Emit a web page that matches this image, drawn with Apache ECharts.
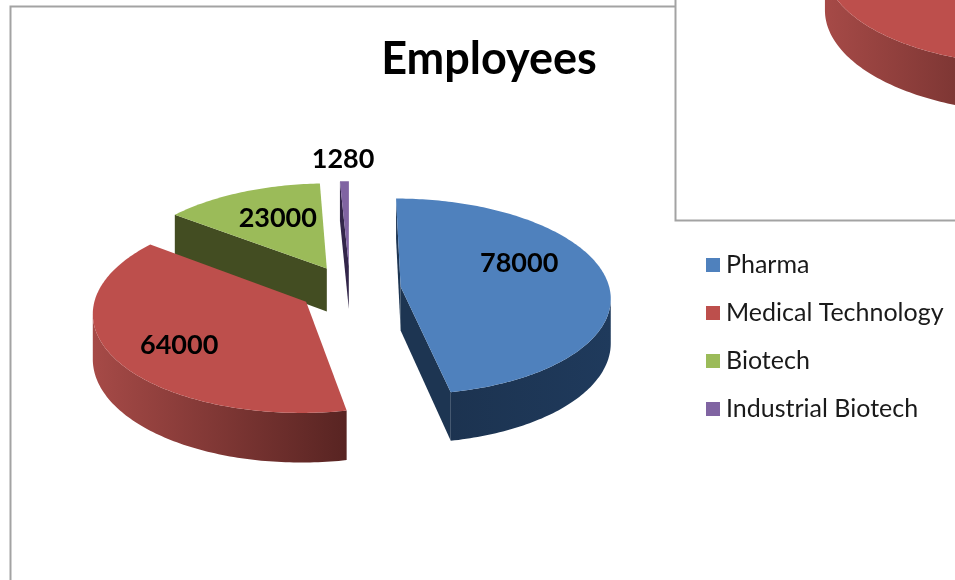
<!DOCTYPE html>
<html>
<head>
<meta charset="utf-8">
<style>html,body{margin:0;padding:0;background:#fff}#c{width:955px;height:580px}</style>
<script src="https://cdn.jsdelivr.net/npm/echarts@6/dist/echarts.min.js"></script>
</head>
<body>
<div id="c"></div>
<script>
// ---- data ----
const titleText = 'Employees';
const categories = ['Pharma', 'Medical Technology', 'Biotech', 'Industrial Biotech'];
const employees = [78000, 64000, 23000, 1280];
// The second chart peeking in at top right: only one red slice shows.
const insetCategory = 'Medical Technology';

// ---- styling ----
const FONT = 'Lato, Carlito, "Open Sans", sans-serif';
const topColors = ['#4f81bd', '#bd4f4c', '#9bbb59', '#8064a2'];
const wallFrom = ['#1c3350', '#a64a47', '#434d22', '#3a2c50'];
const wallTo = ['#1f3a5c', '#582422', '#434d22', '#3a2c50'];
const sideColors = ['#1d3552', '#6b2c2a', '#434d22', '#33264a'];
const labelNudge = [[-5, -18], [-14, 11], [4, -3], [-3, -54]];
const VIEW = { x0: 350, y0: 289, R: 209, tilt: 0.466, persp: 0.1, height: 44, explode: 51, labelR: 0.6 };
const INSET = { x0: 1038, y0: -43, R: 212, tilt: 0.46, persp: 0.1, height: 43, explode: 0 };

const total = employees.reduce((a, b) => a + b, 0);
const rad = d => d * Math.PI / 180;
function spans() {
  let acc = 0;
  return employees.map(v => {
    const start = acc / total * 360;
    acc += v;
    return [start, acc / total * 360];
  });
}
const sliceSpans = spans();

function project(g, U, V, lift) {
  const s = 1 / (1 - g.persp * V / g.R);
  return [g.x0 + U * s, g.y0 + g.tilt * V * s + lift * s];
}

function sliceChildren(g, i, withLabel, value) {
  const [a0, a1] = sliceSpans[i];
  const mid = rad((a0 + a1) / 2);
  const ox = Math.sin(mid) * g.explode, oy = -Math.cos(mid) * g.explode;
  const rim = (deg, lift, f) => {
    const t = rad(deg), r = g.R * (f === undefined ? 1 : f);
    return project(g, ox + Math.sin(t) * r, oy - Math.cos(t) * r, lift);
  };
  const apex = lift => project(g, ox, oy, lift);
  const steps = Math.max(2, Math.ceil(a1 - a0));
  const angles = [];
  for (let k = 0; k <= steps; k++) angles.push(a0 + (a1 - a0) * k / steps);

  const children = [];
  const viewV = g.R / g.persp;
  const radialWall = (deg, sign) => {
    const t = rad(deg);
    const n = [sign * Math.cos(t), sign * Math.sin(t)];
    if ((-ox) * n[0] + (viewV - oy) * n[1] <= 0) return;
    children.push({
      type: 'polygon',
      shape: { points: [apex(0), rim(deg, 0), rim(deg, g.height), apex(g.height)] },
      style: { fill: sideColors[i] }
    });
  };
  radialWall(a0, -1);
  radialWall(a1, 1);

  // curved outer wall: only where the rim runs right-to-left, i.e. faces the viewer
  const up = [], down = [];
  for (let k = 0; k < angles.length - 1; k++) {
    const p = rim(angles[k], 0), q = rim(angles[k + 1], 0);
    if (q[0] < p[0]) {
      if (!up.length) { up.push(p); down.push(rim(angles[k], g.height)); }
      up.push(q);
      down.push(rim(angles[k + 1], g.height));
    }
  }
  if (up.length) {
    children.push({
      type: 'polygon',
      shape: { points: up.concat(down.reverse()) },
      style: {
        fill: {
          type: 'linear', x: 0, y: 0, x2: 1, y2: 0,
          colorStops: [{ offset: 0, color: wallFrom[i] }, { offset: 1, color: wallTo[i] }]
        }
      }
    });
  }

  // top face
  const top = [apex(0)].concat(angles.map(d => rim(d, 0)));
  children.push({ type: 'polygon', shape: { points: top }, style: { fill: topColors[i] } });

  if (withLabel) {
    const c = rim((a0 + a1) / 2, 0, g.labelR);
    children.push({
      type: 'text',
      style: {
        text: String(value),
        x: c[0] + labelNudge[i][0],
        y: c[1] + labelNudge[i][1],
        align: 'center',
        verticalAlign: 'middle',
        fill: '#000',
        font: 'bold 27px ' + FONT
      }
    });
  }
  return { type: 'group', children };
}

// paint far slices first
const mids = sliceSpans.map(s => -Math.cos(rad((s[0] + s[1]) / 2)));
const order = mids.map((m, i) => i).sort((a, b) => mids[a] - mids[b]);

const mainSeries = categories.map((name, i) => ({
  type: 'custom',
  name,
  coordinateSystem: 'none',
  silent: true,
  animation: false,
  z: 3 + order.indexOf(i),
  itemStyle: { color: topColors[i] },
  data: [employees[i]],
  renderItem: (params, api) => sliceChildren(VIEW, i, true, api.value(0))
}));

const insetIndex = categories.indexOf(insetCategory);
const insetSeries = {
  type: 'custom',
  name: 'inset',
  coordinateSystem: 'none',
  silent: true,
  animation: false,
  z: 3,
  data: [employees[insetIndex]],
  renderItem: () => sliceChildren(INSET, insetIndex, false)
};

const frame = '#a3a3a3';
const chart = echarts.init(document.getElementById('c'), null, { renderer: 'canvas' });
chart.setOption({
  animation: false,
  backgroundColor: '#fff',
  title: {
    text: titleText,
    left: 484,
    top: 32,
    textAlign: 'center',
    textStyle: { fontFamily: FONT, fontWeight: 'bold', fontSize: 45, color: '#000' }
  },
  legend: {
    data: categories,
    orient: 'vertical',
    left: 701,
    top: 246,
    itemWidth: 14,
    itemHeight: 14,
    itemGap: 20,
    selectedMode: false,
    icon: 'rect',
    textStyle: { fontFamily: FONT, fontSize: 25, color: '#1a1a1a', padding: [0, 0, 0, 1], lineHeight: 28 }
  },
  graphic: [
    { type: 'rect', z: 1, shape: { x: 10.5, y: 6.5, width: 1200, height: 900 }, style: { fill: '#fff', stroke: frame, lineWidth: 2 } },
    { type: 'rect', z: 1, shape: { x: 675.5, y: -20, width: 500, height: 240.5 }, style: { fill: '#fff', stroke: frame, lineWidth: 2 } }
  ],
  series: mainSeries.concat([insetSeries])
});
</script>
</body>
</html>
